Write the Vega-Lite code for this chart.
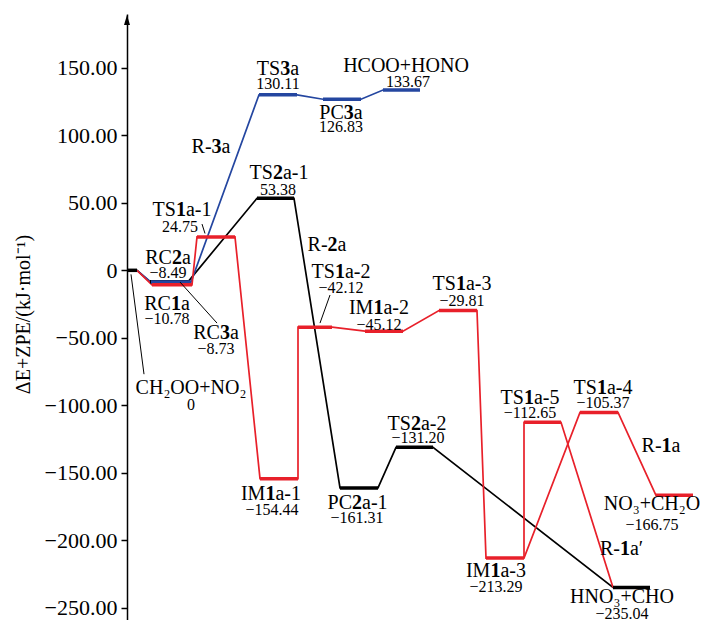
{
  "$schema": "https://vega.github.io/schema/vega-lite/v6.json",
  "width": 577,
  "height": 606,
  "autosize": "none",
  "padding": {"left": 127, "top": 14, "right": 0, "bottom": 0},
  "background": "white",
  "config": {"view": {"stroke": null}, "text": {"font": "Liberation Serif", "color": "black"}},
  "datasets": {
    "paths": [
      {"p": "R-2a", "g": "black", "o": 1, "x": 0, "e": 0},
      {"p": "R-2a", "g": "black", "o": 2, "x": 1.0, "e": 0},
      {"p": "R-2a", "g": "black", "o": 3, "x": 2.3, "e": -8.49},
      {"p": "R-2a", "g": "black", "o": 4, "x": 6.1, "e": -8.49},
      {"p": "R-2a", "g": "black", "o": 5, "x": 13.0, "e": 53.38},
      {"p": "R-2a", "g": "black", "o": 6, "x": 16.7, "e": 53.38},
      {"p": "R-2a", "g": "black", "o": 7, "x": 21.3, "e": -161.31},
      {"p": "R-2a", "g": "black", "o": 8, "x": 25.1, "e": -161.31},
      {"p": "R-2a", "g": "black", "o": 9, "x": 26.9, "e": -131.2},
      {"p": "R-2a", "g": "black", "o": 10, "x": 30.6, "e": -131.2},
      {"p": "R-2a", "g": "black", "o": 11, "x": 48.6, "e": -235.04},
      {"p": "R-2a", "g": "black", "o": 12, "x": 52.3, "e": -235.04},
      {"p": "R-3a", "g": "blue", "o": 1, "x": 1.0, "e": 0},
      {"p": "R-3a", "g": "blue", "o": 2, "x": 2.4, "e": -8.73},
      {"p": "R-3a", "g": "blue", "o": 3, "x": 6.4, "e": -8.73},
      {"p": "R-3a", "g": "blue", "o": 4, "x": 13.2, "e": 130.11},
      {"p": "R-3a", "g": "blue", "o": 5, "x": 17.0, "e": 130.11},
      {"p": "R-3a", "g": "blue", "o": 6, "x": 19.6, "e": 126.83},
      {"p": "R-3a", "g": "blue", "o": 7, "x": 23.4, "e": 126.83},
      {"p": "R-3a", "g": "blue", "o": 8, "x": 25.6, "e": 133.67},
      {"p": "R-3a", "g": "blue", "o": 9, "x": 29.3, "e": 133.67},
      {"p": "R-1a", "g": "red", "o": 1, "x": 1.0, "e": 0},
      {"p": "R-1a", "g": "red", "o": 2, "x": 2.5, "e": -10.78},
      {"p": "R-1a", "g": "red", "o": 3, "x": 6.5, "e": -10.78},
      {"p": "R-1a", "g": "red", "o": 4, "x": 7.0, "e": 24.75},
      {"p": "R-1a", "g": "red", "o": 5, "x": 10.8, "e": 24.75},
      {"p": "R-1a", "g": "red", "o": 6, "x": 13.3, "e": -154.44},
      {"p": "R-1a", "g": "red", "o": 7, "x": 17.1, "e": -154.44},
      {"p": "R-1a", "g": "red", "o": 8, "x": 17.1, "e": -42.12},
      {"p": "R-1a", "g": "red", "o": 9, "x": 20.5, "e": -42.12},
      {"p": "R-1a", "g": "red", "o": 10, "x": 23.8, "e": -45.12},
      {"p": "R-1a", "g": "red", "o": 11, "x": 27.6, "e": -45.12},
      {"p": "R-1a", "g": "red", "o": 12, "x": 31.2, "e": -29.81},
      {"p": "R-1a", "g": "red", "o": 13, "x": 35.0, "e": -29.81},
      {"p": "R-1a", "g": "red", "o": 14, "x": 35.9, "e": -213.29},
      {"p": "R-1a", "g": "red", "o": 15, "x": 39.7, "e": -213.29},
      {"p": "R-1a", "g": "red", "o": 16, "x": 45.3, "e": -105.37},
      {"p": "R-1a", "g": "red", "o": 17, "x": 49.1, "e": -105.37},
      {"p": "R-1a", "g": "red", "o": 18, "x": 52.9, "e": -166.75},
      {"p": "R-1a", "g": "red", "o": 19, "x": 56.6, "e": -166.75},
      {"p": "R-1a′", "g": "red", "o": 1, "x": 39.7, "e": -213.29},
      {"p": "R-1a′", "g": "red", "o": 2, "x": 39.7, "e": -112.65},
      {"p": "R-1a′", "g": "red", "o": 3, "x": 43.4, "e": -112.65},
      {"p": "R-1a′", "g": "red", "o": 4, "x": 48.6, "e": -235.04}
    ],
    "levels": [
      {"g": "black", "x": 0, "x2": 1.0, "e": 0},
      {"g": "black", "x": 2.3, "x2": 6.1, "e": -8.49},
      {"g": "black", "x": 13.0, "x2": 16.7, "e": 53.38},
      {"g": "black", "x": 21.3, "x2": 25.1, "e": -161.31},
      {"g": "black", "x": 26.9, "x2": 30.6, "e": -131.2},
      {"g": "black", "x": 48.6, "x2": 52.3, "e": -235.04},
      {"g": "blue", "x": 2.4, "x2": 6.4, "e": -8.73},
      {"g": "blue", "x": 13.2, "x2": 17.0, "e": 130.11},
      {"g": "blue", "x": 19.6, "x2": 23.4, "e": 126.83},
      {"g": "blue", "x": 25.6, "x2": 29.3, "e": 133.67},
      {"g": "red", "x": 2.5, "x2": 6.5, "e": -10.78},
      {"g": "red", "x": 7.0, "x2": 10.8, "e": 24.75},
      {"g": "red", "x": 13.3, "x2": 17.1, "e": -154.44},
      {"g": "red", "x": 17.1, "x2": 20.5, "e": -42.12},
      {"g": "red", "x": 23.8, "x2": 27.6, "e": -45.12},
      {"g": "red", "x": 31.2, "x2": 35.0, "e": -29.81},
      {"g": "red", "x": 35.9, "x2": 39.7, "e": -213.29},
      {"g": "red", "x": 39.7, "x2": 43.4, "e": -112.65},
      {"g": "red", "x": 45.3, "x2": 49.1, "e": -105.37},
      {"g": "red", "x": 52.9, "x2": 56.6, "e": -166.75}
    ],
    "leaders": [
      {"x": 0.4, "e": -3, "x2": 1.7, "e2": -77},
      {"x": 5.3, "e": -8.7, "x2": 9.0, "e2": -39.1},
      {"x": 7.5, "e": 34.3, "x2": 7.8, "e2": 27.3},
      {"x": 20.3, "e": -18.3, "x2": 19.3, "e2": -39.1}
    ],
    "boldnames": [
      {"pre": "TS", "b": "3", "post": "a", "x": 15.82, "e": 149.2},
      {"pre": "PC", "b": "3", "post": "a", "x": 22.18, "e": 116.4},
      {"pre": "R-", "b": "3", "post": "a", "x": 8.96, "e": 91.4},
      {"pre": "TS", "b": "2", "post": "a-1", "x": 15.09, "e": 71.8},
      {"pre": "TS", "b": "1", "post": "a-1", "x": 5.39, "e": 44.6},
      {"pre": "R-", "b": "2", "post": "a", "x": 20.56, "e": 18.8},
      {"pre": "RC", "b": "2", "post": "a", "x": 4.99, "e": 9.1},
      {"pre": "RC", "b": "1", "post": "a", "x": 4.89, "e": -25.0},
      {"pre": "RC", "b": "3", "post": "a", "x": 9.79, "e": -46.7},
      {"pre": "TS", "b": "1", "post": "a-2", "x": 21.29, "e": -1.5},
      {"pre": "IM", "b": "1", "post": "a-2", "x": 25.14, "e": -28.2},
      {"pre": "TS", "b": "1", "post": "a-3", "x": 33.39, "e": -9.9},
      {"pre": "IM", "b": "1", "post": "a-1", "x": 14.34, "e": -165.5},
      {"pre": "PC", "b": "2", "post": "a-1", "x": 23.0, "e": -172.4},
      {"pre": "TS", "b": "2", "post": "a-2", "x": 28.89, "e": -113.6},
      {"pre": "TS", "b": "1", "post": "a-5", "x": 40.19, "e": -94.3},
      {"pre": "TS", "b": "1", "post": "a-4", "x": 47.49, "e": -87.0},
      {"pre": "R-", "b": "1", "post": "a", "x": 53.96, "e": -130},
      {"pre": "R-", "b": "1", "post": "a′", "x": 49.79, "e": -206.6},
      {"pre": "IM", "b": "1", "post": "a-3", "x": 36.84, "e": -223.1}
    ],
    "names": [
      {"t": "HCOO+HONO", "x": 27.9, "e": 151.3},
      {"t": "CH₂OO+NO₂", "x": 6.4, "e": -87.0},
      {"t": "NO₃+CH₂O", "x": 52.5, "e": -173.5},
      {"t": "HNO₃+CHO", "x": 49.5, "e": -241.9}
    ],
    "vals": [
      {"t": "133.67", "x": 28.1, "e": 139.6},
      {"t": "130.11", "x": 15.1, "e": 138.3},
      {"t": "126.83", "x": 21.4, "e": 106.0},
      {"t": "53.38", "x": 15.1, "e": 59.3},
      {"t": "24.75", "x": 5.3, "e": 32.2},
      {"t": "−8.49", "x": 4.1, "e": -1.8},
      {"t": "−10.78", "x": 4.0, "e": -36.0},
      {"t": "−8.73", "x": 8.9, "e": -58.4},
      {"t": "0", "x": 6.4, "e": -100.1},
      {"t": "−42.12", "x": 21.4, "e": -13.2},
      {"t": "−45.12", "x": 25.2, "e": -40.7},
      {"t": "−29.81", "x": 33.5, "e": -22.4},
      {"t": "−154.44", "x": 14.5, "e": -177.4},
      {"t": "−161.31", "x": 23.0, "e": -183.5},
      {"t": "−131.20", "x": 29.1, "e": -124.5},
      {"t": "−112.65", "x": 40.3, "e": -106.0},
      {"t": "−105.37", "x": 47.6, "e": -98.0},
      {"t": "−166.75", "x": 52.5, "e": -189.0},
      {"t": "−213.29", "x": 36.9, "e": -234.8},
      {"t": "−235.04", "x": 49.5, "e": -254.4}
    ],
    "arrow": [{"x": 0, "e": 185.6}]
  },
  "layer": [
    {
      "data": {"name": "paths"},
      "mark": {"type": "line", "strokeWidth": 1.7, "interpolate": "linear"},
      "encoding": {
        "x": {"field": "x", "type": "quantitative", "scale": {"domain": [0, 57.7], "nice": false, "zero": false}, "axis": null},
        "y": {
          "field": "e", "type": "quantitative",
          "scale": {"domain": [-259.2, 190], "nice": false, "zero": false},
          "axis": {
            "values": [-250, -200, -150, -100, -50, 0, 50, 100, 150],
            "labelExpr": "datum.value == 0 ? '0' : (datum.value < 0 ? '−' : '') + format(abs(datum.value), '.2f')",
            "title": "ΔE+ZPE/(kJ·mol⁻¹)",
            "titleFont": "Liberation Serif", "titleFontSize": 20, "titleFontWeight": "normal", "titleColor": "black",
            "titleAngle": -90, "titleX": -104, "titleY": 300, "titleAlign": "center", "titleBaseline": "middle",
            "labelFont": "Liberation Serif", "labelFontSize": 22, "labelColor": "black", "labelPadding": 4,
            "tickSize": 6, "tickWidth": 1.5, "tickColor": "black",
            "domainColor": "black", "domainWidth": 1.5, "grid": false
          }
        },
        "detail": {"field": "p"},
        "order": {"field": "o"},
        "color": {"field": "g", "type": "nominal", "scale": {"domain": ["red", "blue", "black"], "range": ["#e8202a", "#2446a0", "#000000"]}, "legend": null}
      }
    },
    {
      "data": {"name": "levels"},
      "mark": {"type": "rule", "strokeWidth": 3.5, "strokeCap": "butt"},
      "encoding": {
        "x": {"field": "x", "type": "quantitative"},
        "x2": {"field": "x2"},
        "y": {"field": "e", "type": "quantitative"},
        "color": {"field": "g", "type": "nominal", "legend": null}
      }
    },
    {
      "data": {"name": "leaders"},
      "mark": {"type": "rule", "strokeWidth": 1, "color": "black"},
      "encoding": {
        "x": {"field": "x", "type": "quantitative"},
        "x2": {"field": "x2"},
        "y": {"field": "e", "type": "quantitative"},
        "y2": {"field": "e2"}
      }
    },
    {
      "data": {"name": "arrow"},
      "mark": {"type": "point", "shape": "M0,-1L-0.6,1L0.6,1Z", "size": 100, "filled": true, "color": "black", "opacity": 1, "strokeWidth": 0},
      "encoding": {
        "x": {"field": "x", "type": "quantitative"},
        "y": {"field": "e", "type": "quantitative"}
      }
    },
    {
      "data": {"name": "boldnames"},
      "mark": {"type": "text", "fontSize": 20, "align": "right", "baseline": "middle", "dx": -5, "font": "Liberation Serif"},
      "encoding": {
        "x": {"field": "x", "type": "quantitative"},
        "y": {"field": "e", "type": "quantitative"},
        "text": {"field": "pre"}
      }
    },
    {
      "data": {"name": "boldnames"},
      "mark": {"type": "text", "fontSize": 20, "align": "center", "baseline": "middle", "fontWeight": "bold", "font": "Liberation Serif"},
      "encoding": {
        "x": {"field": "x", "type": "quantitative"},
        "y": {"field": "e", "type": "quantitative"},
        "text": {"field": "b"}
      }
    },
    {
      "data": {"name": "boldnames"},
      "mark": {"type": "text", "fontSize": 20, "align": "left", "baseline": "middle", "dx": 5, "font": "Liberation Serif"},
      "encoding": {
        "x": {"field": "x", "type": "quantitative"},
        "y": {"field": "e", "type": "quantitative"},
        "text": {"field": "post"}
      }
    },
    {
      "data": {"name": "names"},
      "mark": {"type": "text", "fontSize": 20, "align": "center", "baseline": "middle", "font": "Liberation Serif"},
      "encoding": {
        "x": {"field": "x", "type": "quantitative"},
        "y": {"field": "e", "type": "quantitative"},
        "text": {"field": "t"}
      }
    },
    {
      "data": {"name": "vals"},
      "mark": {"type": "text", "fontSize": 16, "align": "center", "baseline": "middle", "font": "Liberation Serif"},
      "encoding": {
        "x": {"field": "x", "type": "quantitative"},
        "y": {"field": "e", "type": "quantitative"},
        "text": {"field": "t"}
      }
    }
  ]
}
